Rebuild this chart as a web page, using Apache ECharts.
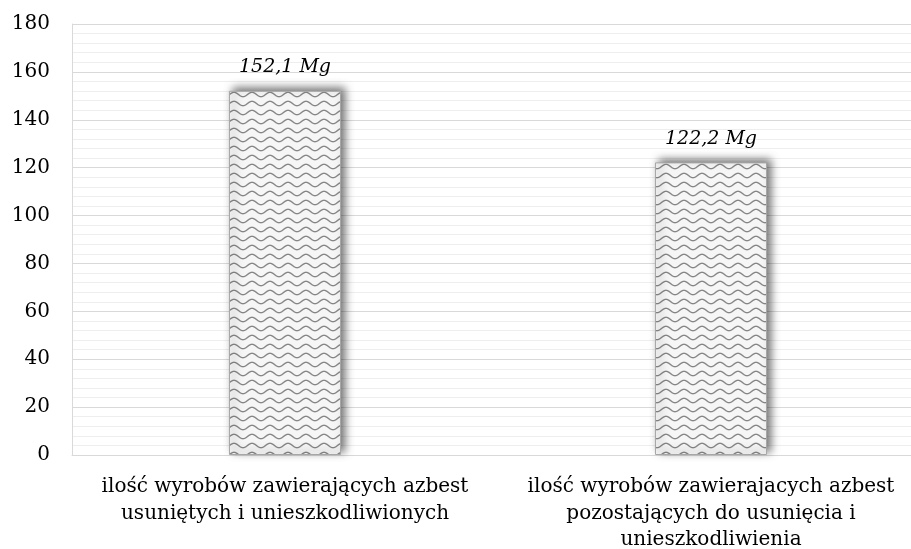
<!DOCTYPE html>
<html>
<head>
<meta charset="utf-8">
<style>
  html, body { margin: 0; padding: 0; background: #ffffff; }
  #chart { width: 911px; height: 549px; }
</style>
<script src="https://cdn.jsdelivr.net/npm/echarts@6/dist/echarts.min.js"></script>
</head>
<body>
<div id="chart"></div>
<script>
// Asbestos-containing products: removed vs. still to be removed (Mg)
const categories = [
  'ilość wyrobów zawierających azbest\nusuniętych i unieszkodliwionych',
  'ilość wyrobów zawierajacych azbest\npozostających do usunięcia i\nunieszkodliwienia'
];
const values = [152.1, 122.2];
const valueLabels = ['152,1 Mg', '122,2 Mg'];
const yTicks = [0, 20, 40, 60, 80, 100, 120, 140, 160, 180];

const FONT = '"DejaVu Serif", "Liberation Serif", serif';

// Wavy hatch fill tile
function waveTile() {
  const w = 18, h = 9;
  const c = document.createElement('canvas');
  c.width = w; c.height = h;
  const ctx = c.getContext('2d');
  ctx.fillStyle = '#f6f6f6';
  ctx.fillRect(0, 0, w, h);
  ctx.strokeStyle = '#868686';
  ctx.lineWidth = 1.4;
  ctx.beginPath();
  for (let x = -1; x <= w + 1; x += 0.5) {
    const y = 4.5 - 2.2 * Math.cos((2 * Math.PI * x) / w);
    if (x === -1) ctx.moveTo(x, y); else ctx.lineTo(x, y);
  }
  ctx.stroke();
  return c;
}

const chart = echarts.init(document.getElementById('chart'), null, { renderer: 'canvas' });

chart.setOption({
  animation: false,
  backgroundColor: '#ffffff',
  // plot area runs a little past the right edge of the page
  grid: { left: 72, top: 24, width: 852, height: 431, containLabel: false, outerBoundsMode: 'none' },
  xAxis: {
    type: 'category',
    data: categories,
    axisLine: { show: true, lineStyle: { color: '#d9d9d9', width: 1 } },
    axisTick: { show: false },
    axisLabel: {
      interval: 0,
      margin: 19,
      color: '#000000',
      fontFamily: FONT,
      fontSize: 20,
      lineHeight: 26.5,
      align: 'center'
    },
    splitLine: { show: false }
  },
  yAxis: {
    type: 'value',
    min: yTicks[0],
    max: yTicks[yTicks.length - 1],
    interval: 20,
    axisLine: { show: true, lineStyle: { color: '#d9d9d9', width: 1 } },
    axisTick: { show: false },
    axisLabel: {
      margin: 22,
      color: '#000000',
      fontFamily: FONT,
      fontSize: 20
    },
    splitLine: { show: true, lineStyle: { color: '#d9d9d9', width: 1 } },
    minorTick: { show: false, splitNumber: 5 },
    minorSplitLine: { show: true, lineStyle: { color: '#eeeeee', width: 1 } }
  },
  series: [{
    type: 'bar',
    data: values,
    barWidth: '26.3%',
    itemStyle: {
      color: { image: waveTile(), repeat: 'repeat' },
      borderColor: '#a6a6a6',
      borderWidth: 1,
      shadowColor: 'rgba(0,0,0,0.55)',
      shadowBlur: 9,
      shadowOffsetX: 4,
      shadowOffsetY: -3
    },
    label: {
      show: true,
      position: 'top',
      distance: 14,
      formatter: p => valueLabels[p.dataIndex],
      color: '#000000',
      fontFamily: FONT,
      fontStyle: 'italic',
      fontSize: 19
    }
  }]
});
</script>
</body>
</html>
